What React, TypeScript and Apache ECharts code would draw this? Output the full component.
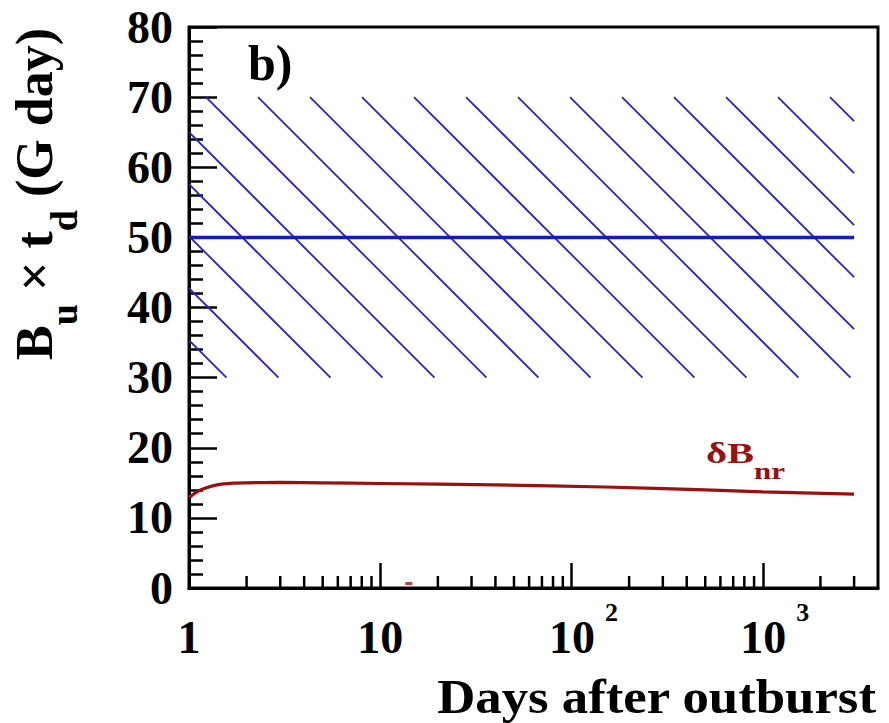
import React, { useEffect, useRef } from "react";
import * as echarts from "echarts";

// ---- data ----
const curveX = [1, 1.1, 1.2, 1.4, 1.7, 2, 3, 5, 10, 40, 150, 500, 1000, 3000];
const curveY = [12.9, 13.7, 14.2, 14.7, 14.95, 15.0, 15.05, 15.0, 14.9, 14.7, 14.4, 14.0, 13.7, 13.4];
const bandX = [1, 3000];
const bandY = [30, 70];
const centralLineY = 50;
const dotPoint = [14.1, 0.64];
const xMinorTicks = [2, 3, 4, 5, 6, 7, 8, 9, 20, 30, 40, 50, 60, 70, 80, 90, 200, 300, 400, 500, 600, 700, 800, 900, 2000, 3000];
const xMin = 1;
const xMax = 4000;
const yMin = 0;
const yMax = 80;
const yInterval = 10;

const FONT = "Liberation Serif";
const BLUE = "#1a1ab4";
const HATCH = "#2626c4";
const RED = "#9a1010";

export default function App() {
  const ref = useRef<HTMLDivElement>(null);
  useEffect(() => {
    if (!ref.current) return;
    const chart = echarts.init(ref.current, undefined, { renderer: "svg" });

    const baseTok = { fontSize: 46, fontWeight: "bold", fontFamily: FONT, color: "#000", lineHeight: 76 };
    const option: any = {
      animation: false,
      backgroundColor: "#fff",
      grid: {
        left: 189,
        top: 27,
        right: 11,
        bottom: 135,
        show: true,
        borderColor: "#000",
        borderWidth: 3,
        backgroundColor: "transparent",
      },
      xAxis: {
        type: "log",
        logBase: 10,
        min: xMin,
        max: xMax,
        axisLine: { show: true, lineStyle: { color: "#000", width: 3 } },
        axisTick: { show: true, inside: true, length: 25, lineStyle: { color: "#000", width: 2.5 } },
        minorTick: { show: false },
        splitLine: { show: false },
        axisLabel: {
          showMaxLabel: false,
          margin: 11,
          formatter: (v: number) => {
            const k = Math.round(Math.log10(v));
            if (k === 0) return "{b|1}";
            if (k === 1) return "{b|10}";
            return "{bp|10}{s|" + k + "}";
          },
          rich: {
            b: baseTok,
            bp: { ...baseTok, padding: [0, 0, 0, 24] },
            s: { fontSize: 26, fontWeight: "bold", fontFamily: FONT, color: "#000", lineHeight: 30, verticalAlign: "top", padding: [0, 0, 0, 10] },
          },
        },
      },
      yAxis: {
        type: "value",
        min: yMin,
        max: yMax,
        interval: yInterval,
        axisLine: { show: true, lineStyle: { color: "#000", width: 3 } },
        axisTick: { show: true, inside: true, length: 28, lineStyle: { color: "#000", width: 2.5 } },
        minorTick: { show: true, splitNumber: 5, length: 14, lineStyle: { color: "#000", width: 2.5 } },
        splitLine: { show: false },
        axisLabel: { fontSize: 46, fontWeight: "bold", fontFamily: FONT, color: "#000", margin: 16 },
      },
      series: [
        {
          type: "custom",
          name: "hatch",
          clip: true,
          z: 2,
          data: [[bandX[0], bandX[1], bandY[0], bandY[1]]],
          encode: { x: [0, 1], y: [2, 3] },
          renderItem: (params: any, api: any) => {
            const tl = api.coord([api.value(0), api.value(3)]);
            const br = api.coord([api.value(1), api.value(2)]);
            const left = tl[0], top = tl[1];
            const W = br[0] - tl[0], H = br[1] - tl[1];
            const step = 52, phase = 17;
            const children: any[] = [];
            const kStart = Math.floor((-H - phase) / step);
            for (let k = kStart; phase + k * step < W; k++) {
              const d = phase + k * step;
              let u0, v0;
              if (d >= 0) { u0 = d; v0 = 0; } else { u0 = 0; v0 = -d; }
              if (v0 > H || u0 > W) continue;
              const v1 = Math.min(H, W - d);
              const u1 = v1 + d;
              if (v1 <= v0) continue;
              children.push({
                type: "line",
                shape: { x1: left + u0, y1: top + v0, x2: left + u1, y2: top + v1 },
                style: { stroke: HATCH, lineWidth: 1.8 },
              });
            }
            return { type: "group", children };
          },
        },
        {
          type: "line",
          name: "central",
          z: 3,
          data: [[bandX[0], centralLineY], [bandX[1], centralLineY]],
          showSymbol: false,
          lineStyle: { color: BLUE, width: 3.5 },
        },
        {
          type: "line",
          name: "deltaB",
          z: 4,
          smooth: 0.3,
          data: curveX.map((x, i) => [x, curveY[i]]),
          showSymbol: false,
          lineStyle: { color: RED, width: 3.2 },
        },
        {
          type: "scatter",
          name: "dot",
          z: 4,
          data: [dotPoint],
          symbol: "rect",
          symbolSize: [7, 3],
          itemStyle: { color: "#b01414" },
        },
        {
          type: "custom",
          name: "xminor",
          z: 10,
          clip: false,
          data: xMinorTicks.map((v) => [v, yMin]),
          encode: { x: 0, y: 1 },
          renderItem: (params: any, api: any) => {
            const p = api.coord([api.value(0), api.value(1)]);
            return {
              type: "line",
              shape: { x1: p[0], y1: p[1], x2: p[0], y2: p[1] - 12 },
              style: { stroke: "#000", lineWidth: 2.5 },
            };
          },
        },
      ],
      graphic: [
        {
          type: "text",
          x: 46,
          y: 28,
          rotation: Math.PI / 2,
          style: {
            text: "{m|B}{s|u}{m| × t}{s|d}{m| (G day)}",
            align: "right",
            verticalAlign: "middle",
            rich: {
              m: { fontSize: 52, fontWeight: "bold", fontFamily: FONT, fill: "#000", lineHeight: 52, verticalAlign: "top" },
              s: { fontSize: 38, fontWeight: "bold", fontFamily: FONT, fill: "#000", lineHeight: 74.5, verticalAlign: "bottom" },
            },
          },
        },
        {
          type: "text",
          x: 876,
          y: 697,
          scaleX: 1.1,
          style: {
            text: "Days after outburst",
            font: `bold 48px "${FONT}"`,
            fill: "#000",
            align: "right",
            verticalAlign: "middle",
          },
        },
        {
          type: "text",
          x: 248,
          y: 63,
          style: {
            text: "b)",
            font: `bold 50px "${FONT}"`,
            fill: "#000",
            align: "left",
            verticalAlign: "middle",
          },
        },
        {
          type: "text",
          x: 706,
          y: 438,
          scaleX: 1.35,
          style: {
            text: "{m|δB}{s|nr}",
            align: "left",
            verticalAlign: "top",
            rich: {
              m: { fontSize: 30, fontWeight: "bold", fontFamily: FONT, fill: RED, lineHeight: 30, verticalAlign: "top" },
              s: { fontSize: 23, fontWeight: "bold", fontFamily: FONT, fill: RED, lineHeight: 44.7, verticalAlign: "bottom" },
            },
          },
        },
      ],
    };
    chart.setOption(option);
    return () => chart.dispose();
  }, []);
  return <div ref={ref} style={{ position: "fixed", left: 0, top: 0, width: 889, height: 723 }} />;
}
